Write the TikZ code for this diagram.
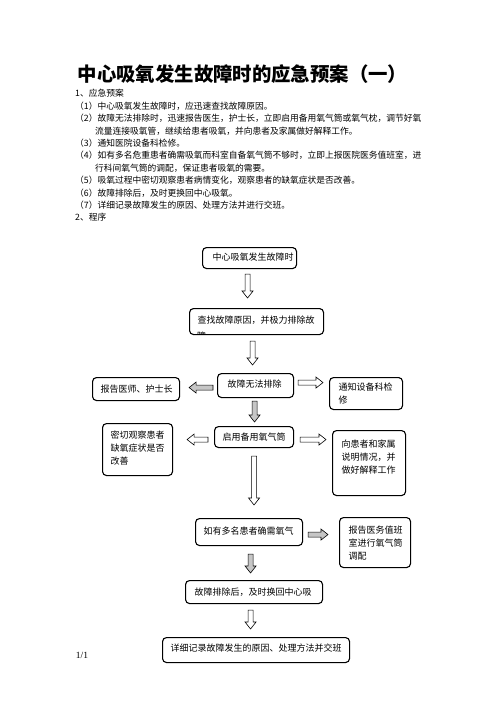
\documentclass[tikz,border=0pt]{standalone}
\usepackage{fontspec}
\setmainfont{Noto Sans CJK SC}
\newfontfamily\latinserif{Liberation Serif}
\usetikzlibrary{calc}
\tikzset{
  fbx/.style={draw, line width=1.1pt, rounded corners=4pt, anchor=north west,
    inner sep=0pt, font=\fontsize{9}{13}\selectfont},
  body/.style={anchor=base west, inner sep=0pt, font=\fontsize{8.75}{12}\selectfont},
  blk/.style={draw, line width=0.6pt, fill=white, line join=miter},
  blkg/.style={blk, fill=gray!45},
}
% name, x, y, w, h, padx, pady, text
\newcommand\flowbox[8]{%
  \node[fbx, minimum width=#4pt, minimum height=#5pt] (#1) at (#2,#3)
    {\parbox[c][#5pt][t]{#4pt}{\raggedright\leftskip=#6pt\relax\vspace*{#7pt}#8}};}
% block arrow from #2 to #3
\newcommand\blockarrow[3][blk]{%
  \draw[#1] let \p1=#2, \p2=#3,
    \n1={veclen(\x2-\x1,\y2-\y1)}, \n2={atan2(\y2-\y1,\x2-\x1)} in
    [shift={(\p1)}, rotate=\n2]
    (0pt,-2.5pt) -- ({\n1*1pt-7pt},-2.5pt) -- ({\n1*1pt-7pt},-5.5pt)
    -- ({\n1*1pt},0pt) -- ({\n1*1pt-7pt},5.5pt) -- ({\n1*1pt-7pt},2.5pt)
    -- (0pt,2.5pt) -- cycle;}
\begin{document}
\begin{tikzpicture}[x=1pt, y=-1pt]
\useasboundingbox[fill=white] (0,0) rectangle (496,702);

% title
\node[inner sep=0pt, font=\fontsize{19.4}{20}\selectfont\bfseries] (title) at (242.5,74)
  {中心吸氧发生故障时的应急预案（一）};

% body text
\node[body] (l0) at (75,96.8) {1、应急预案};
\node[body] (l1) at (75,109.2) {（1）中心吸氧发生故障时，应迅速查找故障原因。};
\node[body] (l2) at (75,121.6) {（2）故障无法排除时，迅速报告医生，护士长，立即启用备用氧气筒或氧气枕，调节好氧};
\node[body] (l3) at (95,134.0) {流量连接吸氧管，继续给患者吸氧，并向患者及家属做好解释工作。};
\node[body] (l4) at (75,146.4) {（3）通知医院设备科检修。};
\node[body] (l5) at (75,158.8) {（4）如有多名危重患者确需吸氧而科室自备氧气筒不够时，立即上报医院医务值班室，进};
\node[body] (l6) at (95,171.2) {行科间氧气筒的调配，保证患者吸氧的需要。};
\node[body] (l7) at (75,183.6) {（5）吸氧过程中密切观察患者病情变化，观察患者的缺氧症状是否改善。};
\node[body] (l8) at (75,196.0) {（6）故障排除后，及时更换回中心吸氧。};
\node[body] (l9) at (75,208.4) {（7）详细记录故障发生的原因、处理方法并进行交班。};
\node[body] (l10) at (75,220.8) {2、程序};

% flow boxes
\flowbox{B1}{202}{247}{94}{21}{10}{5.7}{中心吸氧发生故障时}
\flowbox{B2}{189}{308}{134}{26}{8}{7}{查找故障原因，并极力排除故}
\begin{scope}
  \clip ($(B2.north west)+(1,1)$) rectangle ($(B2.south east)+(-1,-1)$);
  \node[anchor=base west, inner sep=0pt, font=\fontsize{9}{13}\selectfont] (B2b)
    at ($(B2.north west)+(8,31.5)$) {障};
\end{scope}
\flowbox{B3L}{92}{377}{87}{23}{8}{7}{报告医师、护士长}
\flowbox{B3}{217}{373}{76}{24}{10}{6}{故障无法排除}
\flowbox{B3R}{329}{377}{73}{32}{9}{5.7}{通知设备科检\\修}
\flowbox{B4L}{102}{423}{70}{52}{8}{7}{密切观察患者\\缺氧症状是否\\改善}
\flowbox{B4}{214}{426}{79}{21}{8}{6.7}{启用备用氧气筒}
\flowbox{B4R}{332}{430}{73}{65}{9}{9}{向患者和家属\\说明情况，并\\做好解释工作}
\flowbox{B5}{195}{518}{107}{27}{8}{8}{如有多名患者确需氧气}
\flowbox{B5R}{339}{517}{71}{50}{9}{8}{报告医务值班\\室进行氧气筒\\调配}
\flowbox{B6}{185}{580}{137}{23}{9}{7}{故障排除后，及时换回中心吸}
\flowbox{B7}{162}{637}{187}{25}{8}{6.7}{详细记录故障发生的原因、处理方法并交班}

% block arrows
\blockarrow{($(B1.south)+(-2,5)$)}{($(B1.south |- B2.north)+(-2,-10)$)}
\blockarrow{($(B2.south)+(-4,6)$)}{($(B2.south |- B3.north)+(-4,-8)$)}
\blockarrow[blkg]{($(B3.west)+(-4,2)$)}{($(B3L.east |- B3.west)+(9,2)$)}
\blockarrow{($(B3.east)+(4,-3)$)}{($(B3R.west |- B3.east)+(-6,-3)$)}
\blockarrow[blkg]{($(B3.south)+(-1,3)$)}{($(B3.south |- B4.north)+(-1,-4)$)}
\blockarrow{($(B4.west)+(-6,2.5)$)}{($(B4L.east |- B4.west)+(14,2.5)$)}
\blockarrow{($(B4.east)+(6,2.5)$)}{($(B4R.west |- B4.east)+(-6,2.5)$)}
\blockarrow{($(B4.south)+(0,8)$)}{($(B4.south |- B5.north)+(0,-13)$)}
\blockarrow[blkg]{($(B5.east)+(5,2.5)$)}{($(B5R.west |- B5.east)+(-11,2.5)$)}
\blockarrow[blkg]{($(B5.south)+(1.5,8)$)}{($(B5.south |- B6.north)+(1.5,-7)$)}
\blockarrow{($(B6.south)+(-3.5,6)$)}{($(B6.south |- B7.north)+(-3.5,-8)$)}

% page number
\node[inner sep=0pt, font=\latinserif\fontsize{9.5}{10}\selectfont] (pg) at (82,655) {1/1};
\end{tikzpicture}
\end{document}
